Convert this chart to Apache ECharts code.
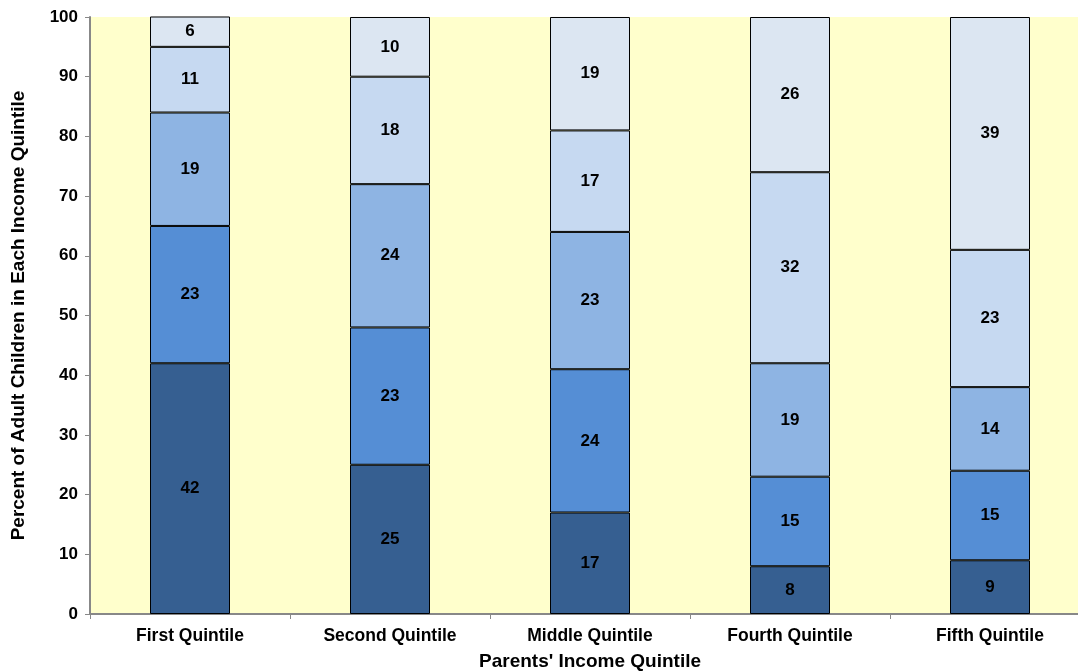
<!DOCTYPE html>
<html><head><meta charset="utf-8">
<script src="https://cdn.jsdelivr.net/npm/echarts@6/dist/echarts.min.js"></script>
<style>html,body{margin:0;padding:0;background:#fff;overflow:hidden;width:1078px;height:671px;}#c{width:1090px;height:671px;}</style>
</head><body><div id="c"></div>
<script>
var categories = ['First Quintile','Second Quintile','Middle Quintile','Fourth Quintile','Fifth Quintile'];
var seriesNames = ['Bottom Quintile','Second Quintile','Middle Quintile','Fourth Quintile','Top Quintile'];
var bottomQ = [42, 25, 17, 8, 9];
var secondQ = [23, 23, 24, 15, 15];
var middleQ = [19, 24, 23, 19, 14];
var fourthQ = [11, 18, 17, 32, 23];
var topQ = [6, 10, 19, 26, 39];
var yTicks = [0,10,20,30,40,50,60,70,80,90,100];
var colors = ['#365F91','#558ED5','#8EB4E3','#C6D9F1','#DCE6F2'];
var allData = [bottomQ, secondQ, middleQ, fourthQ, topQ];
var font = 'Liberation Sans, Arial, sans-serif';
var chart = echarts.init(document.getElementById('c'));
var series = allData.map(function(d, i){
  return {
    name: seriesNames[i], type: 'bar', stack: 'total', data: d, barWidth: 80,
    itemStyle: {color: colors[i], borderColor: '#000', borderWidth: 1},
    label: {show: true, position: 'inside', color: '#000', fontWeight: 'bold', fontSize: 17, fontFamily: font},
    emphasis: {disabled: true}
  };
});
chart.setOption({
  animation: false,
  backgroundColor: '#fff',
  grid: {left: 90, right: 0, top: 17, bottom: 57, show: true, backgroundColor: '#FFFFCC', borderWidth: 0,
    containLabel: false, outerBoundsMode: 'none'},
  xAxis: {
    type: 'category', data: categories,
    name: "Parents' Income Quintile", nameLocation: 'middle', nameGap: 38,
    nameTextStyle: {fontWeight: 'bold', fontSize: 19, fontFamily: font, color: '#000'},
    axisLine: {lineStyle: {color: '#888', width: 2}},
    axisTick: {show: true, length: 5, lineStyle: {color: '#888'}},
    axisLabel: {fontWeight: 'bold', fontSize: 17.5, fontFamily: font, color: '#000', margin: 13}
  },
  yAxis: {
    type: 'value', min: 0, max: 100, interval: 10,
    name: 'Percent of Adult Children in Each Income Quintile', nameLocation: 'middle', nameGap: 62, nameRotate: 90,
    nameTextStyle: {fontWeight: 'bold', fontSize: 19, fontFamily: font, color: '#000'},
    axisLine: {show: true, lineStyle: {color: '#888', width: 2}},
    axisTick: {show: true, length: 5, lineStyle: {color: '#888'}},
    splitLine: {show: false},
    axisLabel: {fontWeight: 'bold', fontSize: 17, fontFamily: font, color: '#000', margin: 12,
      formatter: function(v){ return yTicks.indexOf(v) >= 0 ? String(v) : ''; }}
  },
  series: series
});
</script></body></html>
